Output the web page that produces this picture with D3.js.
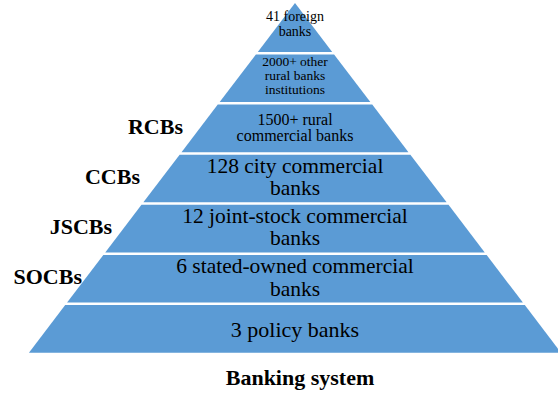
<!DOCTYPE html>
<html>
<head>
<meta charset="utf-8">
<script src="https://cdn.jsdelivr.net/npm/d3@7"></script>
<style>
  body { margin: 0; background: #fff; }
  svg { display: block; font-family: "Liberation Serif", "Times New Roman", serif; }
</style>
</head>
<body>
<div id="chart"></div>
<script>
var width = 558,
    height = 393;

// tiers from top of the pyramid to its base
const tiers = ['foreign', 'other rural', 'rural commercial', 'city commercial',
    'joint-stock', 'state-owned', 'policy'];

const tierText = [
    ['41 foreign', 'banks'],
    ['2000+ other', 'rural banks', 'institutions'],
    ['1500+ rural', 'commercial banks'],
    ['128 city commercial', 'banks'],
    ['12 joint-stock commercial', 'banks'],
    ['6 stated-owned commercial', 'banks'],
    ['3 policy banks']
];

const tierAbbr = ['', '', 'RCBs', 'CCBs', 'JSCBs', 'SOCBs', ''];

const title = 'Banking system';

// text style per tier (font size, line height, nudge)
const fontSize = [14, 13.5, 16, 21.5, 21.5, 21.5, 22];
const lineH = [15, 14, 16, 22.5, 22.5, 22.5, 22];
const nudge = [-4, -3, -1, -2, -2, -2, 0];
const abbrX = [0, 0, 183, 140, 112, 82, 0];

const cx = 295,
    halfBase = 267,
    gap = 2.5;

var svg = d3.select('#chart').append('svg')
    .attr('width', width)
    .attr('height', height);

var y = d3.scaleLinear()
    .domain([0, tiers.length])
    .range([3, 354]);

var half = d3.scaleLinear()
    .domain([3, 354])
    .range([0, halfBase]);

function bandPath(i) {
    const top = y(i) + (i === 0 ? 0 : gap / 2),
        bot = y(i + 1) - gap / 2;
    const ht = half(top), hb = half(bot);
    return 'M' + (cx - ht) + ',' + top +
        'L' + (cx + ht) + ',' + top +
        'L' + (cx + hb) + ',' + bot +
        'L' + (cx - hb) + ',' + bot + 'Z';
}

const band = svg.selectAll('.band')
    .data(tiers)
    .enter()
    .append('g')
    .attr('class', 'band');

band.append('path')
    .attr('d', (d, i) => bandPath(i))
    .attr('fill', '#5b9bd5');

band.each(function (d, i) {
    const lines = tierText[i];
    const mid = (y(i) + y(i + 1)) / 2 + nudge[i];
    const first = mid - (lines.length - 1) * lineH[i] / 2;
    d3.select(this).selectAll('text')
        .data(lines)
        .enter()
        .append('text')
        .attr('x', cx)
        .attr('y', (t, j) => first + j * lineH[i])
        .attr('dy', '0.35em')
        .attr('text-anchor', 'middle')
        .attr('font-size', fontSize[i])
        .attr('fill', '#000')
        .text(t => t);
});

// abbreviations to the left
svg.selectAll('.abbr')
    .data(tierAbbr)
    .enter()
    .filter(d => d !== '')
    .append('text')
    .attr('class', 'abbr')
    .attr('x', d => abbrX[tierAbbr.indexOf(d)])
    .attr('y', d => {
        const i = tierAbbr.indexOf(d);
        return (y(i) + y(i + 1)) / 2 - 2;
    })
    .attr('dy', '0.35em')
    .attr('text-anchor', 'end')
    .attr('font-size', 22)
    .attr('font-weight', 'bold')
    .text(d => d);

svg.append('text')
    .attr('x', 300)
    .attr('y', 385)
    .attr('text-anchor', 'middle')
    .attr('font-size', 22)
    .attr('font-weight', 'bold')
    .text(title);
</script>
</body>
</html>
